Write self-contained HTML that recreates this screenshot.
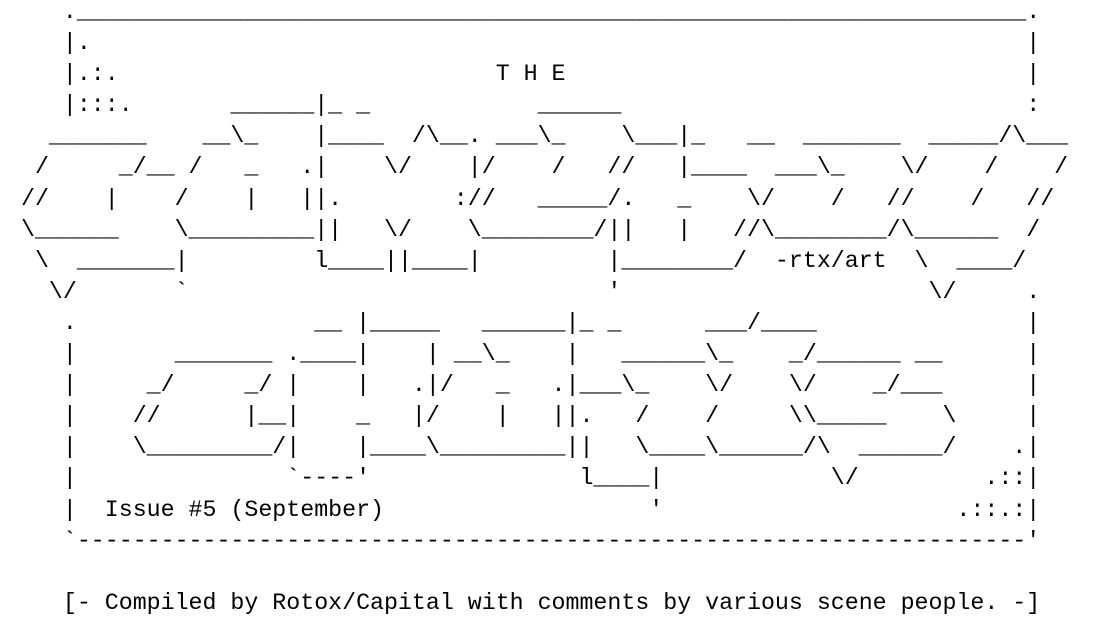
<!DOCTYPE html>
<html><head><meta charset="utf-8"><style>
html,body{margin:0;padding:0;background:#fff;width:1119px;height:626px;overflow:hidden}
pre{position:absolute;left:21px;top:-3px;margin:0;font-family:"Liberation Mono","DejaVu Sans Mono",monospace;font-size:23.28px;line-height:31.1px;color:#000;white-space:pre}
</style></head><body><pre>   .____________________________________________________________________.
   |.                                                                   |
   |.:.                           T H E                                 |
   |:::.       ______|_ _            ______                             :
  _______    __\_    |____  /\__. ___\_    \___|_   __  _______  _____/\___
 /     _/__ /   _   .|    \/    |/    /   //   |____  ___\_    \/    /    /
//    |    /    |   ||.        ://   _____/.   _    \/    /   //    /   //
\______    \_________||   \/    \________/||   |   //\________/\______  /
 \  _______|         l____||____|         |________/  -rtx/art  \  ____/
  \/       `                              '                      \/     .
   .                 __ |_____   ______|_ _      ___/____               |
   |       _______ .____|    | __\_    |   ______\_    _/______ __      |
   |     _/     _/ |    |   .|/   _   .|___\_    \/    \/    _/___      |
   |    //      |__|    _   |/    |   ||.   /    /     \\_____    \     |
   |    \_________/|    |____\_________||   \____\______/\  ______/    .|
   |               `----'               l____|            \/         .::|
   |  Issue #5 (September)                   '                     .::.:|
   `--------------------------------------------------------------------'

   [- Compiled by Rotox/Capital with comments by various scene people. -]</pre></body></html>
